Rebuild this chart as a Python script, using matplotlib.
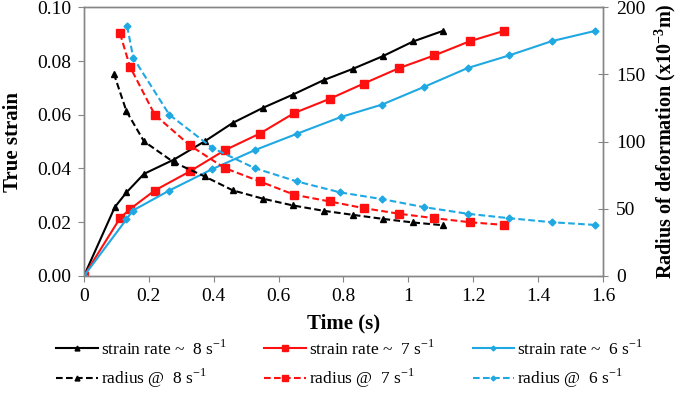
import numpy as np
import matplotlib
matplotlib.use('Agg')
import matplotlib.pyplot as plt
from matplotlib.ticker import FuncFormatter, MultipleLocator

# data (time in s, strain, radius in x10^-3 m)
t_8 = [0, 0.095, 0.131, 0.185, 0.277, 0.372, 0.459, 0.552, 0.644, 0.739, 0.829, 0.921, 1.015, 1.106]
strain_8 = [0, 0.0256, 0.0311, 0.038, 0.0433, 0.0501, 0.057, 0.0626, 0.0675, 0.0729, 0.0771, 0.0818, 0.0873, 0.0912]
tr_8 = [0.092, 0.131, 0.185, 0.277, 0.372, 0.459, 0.552, 0.644, 0.739, 0.829, 0.921, 1.015, 1.106]
radius_8 = [150.7, 122.6, 100.2, 84.6, 74.1, 63.7, 57.5, 52.5, 48.5, 45.5, 42.5, 39.8, 37.8]

t_7 = [0, 0.111, 0.142, 0.218, 0.326, 0.434, 0.542, 0.649, 0.757, 0.862, 0.972, 1.08, 1.19, 1.294]
strain_7 = [0, 0.0215, 0.0249, 0.0318, 0.0389, 0.0468, 0.053, 0.0607, 0.0659, 0.0716, 0.0774, 0.0821, 0.0874, 0.0912]
tr_7 = [0.111, 0.142, 0.218, 0.326, 0.434, 0.542, 0.649, 0.757, 0.862, 0.972, 1.08, 1.19, 1.294]
radius_7 = [180.6, 155.7, 120.1, 97.3, 80.3, 70.4, 60.4, 55.5, 50.5, 46.3, 43.0, 40.0, 38.0]

t_6 = [0, 0.131, 0.15, 0.263, 0.396, 0.526, 0.656, 0.793, 0.919, 1.049, 1.183, 1.311, 1.442, 1.575]
strain_6 = [0, 0.0211, 0.0243, 0.0318, 0.0398, 0.0468, 0.0529, 0.0592, 0.0638, 0.0704, 0.0774, 0.0821, 0.0874, 0.0912]
tr_6 = [0.133, 0.152, 0.263, 0.396, 0.526, 0.656, 0.79, 0.919, 1.049, 1.183, 1.311, 1.442, 1.575]
radius_6 = [186.0, 162.4, 120.1, 95.3, 80.3, 70.4, 62.2, 57.2, 51.2, 46.3, 43.0, 40.0, 38.0]

plt.rcParams['font.family'] = ['Liberation Serif', 'DejaVu Serif']
plt.rcParams['mathtext.fontset'] = 'custom'
plt.rcParams['mathtext.rm'] = 'Liberation Serif'
plt.rcParams['mathtext.bf'] = 'Liberation Serif:bold'

BLACK = '#000000'
RED = '#ff1010'
BLUE = '#1fa8e2'
SPINE = '#868686'

fig = plt.figure(figsize=(6.85, 4.07), dpi=100)
ax = fig.add_axes([0.1226, 0.322, 0.7576, 0.660])
ax2 = ax.twinx()

dash = (3.2, 1.6)
h_s8, = ax.plot(t_8, strain_8, color=BLACK, lw=1.5, marker='^', ms=5,
                label=r'strain rate ~  8 s$^{\mathregular{-1}}$')
h_s7, = ax.plot(t_7, strain_7, color=RED, lw=1.5, marker='s', ms=5.5,
                label=r'strain rate ~  7 s$^{\mathregular{-1}}$')
h_s6, = ax.plot(t_6, strain_6, color=BLUE, lw=1.5, marker='D', ms=3.5,
                label=r'strain rate ~  6 s$^{\mathregular{-1}}$')
h_r8, = ax2.plot(tr_8, radius_8, color=BLACK, lw=1.5, ls='--', dashes=dash,
                 marker='^', ms=5, label=r'radius @  8 s$^{\mathregular{-1}}$')
h_r7, = ax2.plot(tr_7, radius_7, color=RED, lw=1.5, ls='--', dashes=dash,
                 marker='s', ms=5.5, label=r'radius @  7 s$^{\mathregular{-1}}$')
h_r6, = ax2.plot(tr_6, radius_6, color=BLUE, lw=1.5, ls='--', dashes=dash,
                 marker='D', ms=3.5, label=r'radius @  6 s$^{\mathregular{-1}}$')

ax.set_xlim(0, 1.6)
ax.set_ylim(0, 0.10)
ax2.set_ylim(0, 200)
ax.xaxis.set_major_locator(MultipleLocator(0.2))
ax.yaxis.set_major_locator(MultipleLocator(0.02))
ax2.yaxis.set_major_locator(MultipleLocator(50))
ax.xaxis.set_major_formatter(FuncFormatter(lambda v, p: '%g' % round(v, 2)))
ax.yaxis.set_major_formatter(FuncFormatter(lambda v, p: '%.2f' % v))

for a in (ax, ax2):
    for s in a.spines.values():
        s.set_color(SPINE)
        s.set_linewidth(1.0)
ax.tick_params(axis='both', direction='out', length=4, color=SPINE,
               labelsize=14, pad=5)
ax2.tick_params(axis='y', direction='inout', length=7, color=SPINE,
                labelsize=14, pad=6)

ax.set_xlabel('Time (s)', fontsize=15, fontweight='bold', labelpad=6)
ax.set_ylabel('True strain', fontsize=15, fontweight='bold', labelpad=10)
ax2.set_ylabel(r'Radius of deformation (x10$^{\mathbf{-3}}$m)', fontsize=14.5,
               fontweight='bold', labelpad=5)

handles = [h_s8, h_r8, h_s7, h_r7, h_s6, h_r6]
fig.legend(handles=handles, labels=[h.get_label() for h in handles],
           loc='upper center', bbox_to_anchor=(0.51, 0.205), ncol=3,
           frameon=False, fontsize=12.5, handlelength=2.4, handletextpad=0.15,
           columnspacing=2.2, labelspacing=0.5, markerscale=0.7)

fig.savefig('out.png', dpi=100)
